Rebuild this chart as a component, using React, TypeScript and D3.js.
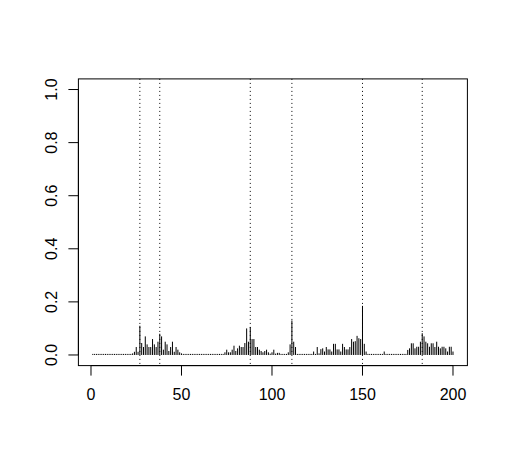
import React from "react";
import * as d3 from "d3";

const values: number[] = [
  0.004, 0.004, 0.004, 0.004, 0.004, 0.004, 0.004, 0.004, 0.004, 0.004,
  0.004, 0.004, 0.004, 0.004, 0.004, 0.004, 0.004, 0.004, 0.004, 0.004,
  0.004, 0.004, 0.006, 0.012, 0.03, 0.012, 0.11, 0.045, 0.03, 0.07,
  0.04, 0.03, 0.03, 0.06, 0.04, 0.03, 0.05, 0.08, 0.07, 0.02,
  0.05, 0.04, 0.015, 0.03, 0.05, 0.012, 0.03, 0.02, 0.01, 0.006,
  0.004, 0.004, 0.004, 0.004, 0.004, 0.004, 0.004, 0.004, 0.004, 0.004,
  0.004, 0.004, 0.004, 0.004, 0.004, 0.004, 0.004, 0.004, 0.004, 0.004,
  0.004, 0.004, 0.004, 0.01, 0.02, 0.01, 0.01, 0.02, 0.035, 0.015,
  0.025, 0.035, 0.03, 0.03, 0.045, 0.1, 0.05, 0.105, 0.06, 0.06,
  0.03, 0.03, 0.02, 0.015, 0.01, 0.015, 0.02, 0.01, 0.005, 0.01,
  0.02, 0.005, 0.008, 0.008, 0.004, 0.004, 0.004, 0.004, 0.01, 0.04,
  0.13, 0.05, 0.03, 0.004, 0.004, 0.004, 0.004, 0.004, 0.004, 0.004,
  0.004, 0.004, 0.013, 0.004, 0.03, 0.006, 0.022, 0.025, 0.013, 0.03,
  0.021, 0.021, 0.013, 0.042, 0.042, 0.021, 0.021, 0.013, 0.042, 0.03,
  0.021, 0.021, 0.03, 0.06, 0.05, 0.052, 0.072, 0.063, 0.06, 0.185,
  0.042, 0.013, 0.004, 0.004, 0.004, 0.004, 0.004, 0.004, 0.004, 0.004,
  0.004, 0.013, 0.004, 0.004, 0.004, 0.004, 0.004, 0.004, 0.004, 0.004,
  0.004, 0.004, 0.004, 0.004, 0.019, 0.025, 0.044, 0.044, 0.025, 0.031,
  0.031, 0.05, 0.082, 0.07, 0.05, 0.044, 0.031, 0.044, 0.044, 0.03,
  0.05, 0.031, 0.025, 0.031, 0.031, 0.025, 0.013, 0.031, 0.031, 0.013,
];

const markers: number[] = [27, 38, 88, 111, 150, 183];
const xTicks: number[] = [0, 50, 100, 150, 200];
const yTicks: number[] = [0, 0.2, 0.4, 0.6, 0.8, 1.0];

const W = 508;
const H = 464;

export default function App() {
  const n = values.length;
  const x = d3
    .scaleLinear()
    .domain([1 - 0.04 * (n - 1), n + 0.04 * (n - 1)])
    .range([78.4, 467.4]);
  const y = d3.scaleLinear().domain([-0.04, 1.04]).range([365.6, 78.9]);
  const [x0, x1] = x.range();
  const [yb, yt] = y.range();
  const font = "'Liberation Sans', Arial, Helvetica, sans-serif";

  return (
    <svg
      width={W}
      height={H}
      style={{ position: "absolute", left: 0, top: 0, background: "#fff" }}
    >
      <rect x={0} y={0} width={W} height={H} fill="#fff" />
      {/* bars */}
      {values.map((v, i) => (
        <line
          key={i}
          x1={x(i + 1)}
          x2={x(i + 1)}
          y1={y(0)}
          y2={y(v)}
          stroke="#000"
          strokeWidth={1}
        />
      ))}
      {/* dotted markers */}
      {markers.map((m) => (
        <line
          key={m}
          x1={x(m)}
          x2={x(m)}
          y1={yt}
          y2={yb}
          stroke="#000"
          strokeWidth={1}
          strokeDasharray="1 3"
        />
      ))}
      {/* box */}
      <rect
        x={x0}
        y={yt}
        width={x1 - x0}
        height={yb - yt}
        fill="none"
        stroke="#000"
        strokeWidth={1}
      />
      {/* x axis */}
      <line x1={x(xTicks[0])} x2={x(xTicks[xTicks.length - 1])} y1={yb} y2={yb} stroke="#000" />
      {xTicks.map((t) => (
        <g key={t}>
          <line x1={x(t)} x2={x(t)} y1={yb} y2={yb + 10} stroke="#000" />
          <text
            x={x(t)}
            y={400}
            textAnchor="middle"
            fontFamily={font}
            fontSize={16}
            fill="#000"
          >
            {t}
          </text>
        </g>
      ))}
      {/* y axis */}
      <line x1={x0} x2={x0} y1={y(0)} y2={y(1)} stroke="#000" />
      {yTicks.map((t) => (
        <g key={t}>
          <line x1={x0 - 10} x2={x0} y1={y(t)} y2={y(t)} stroke="#000" />
          <text
            transform={`translate(57,${y(t)}) rotate(-90)`}
            textAnchor="middle"
            fontFamily={font}
            fontSize={16}
            fill="#000"
          >
            {t.toFixed(1)}
          </text>
        </g>
      ))}
    </svg>
  );
}
